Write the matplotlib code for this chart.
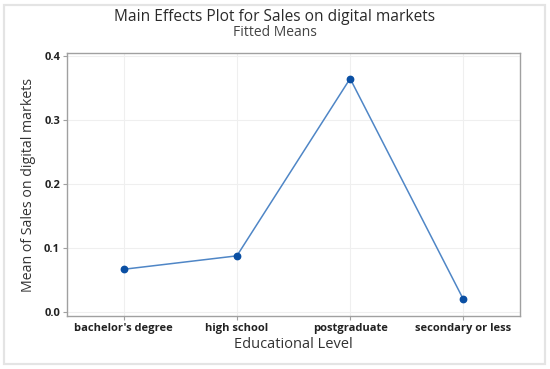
import matplotlib.pyplot as plt
from matplotlib.patches import Rectangle

levels = ["bachelor's degree", 'high school', 'postgraduate', 'secondary or less']
means = [0.067, 0.088, 0.365, 0.020]
yticks = [0.0, 0.1, 0.2, 0.3, 0.4]

plt.rcParams['font.family'] = ['Open Sans', 'DejaVu Sans']

fig = plt.figure(figsize=(5.5, 3.69), dpi=100)
ax = fig.add_axes([67 / 550, 1 - 316 / 369, (520 - 67) / 550, (316 - 53) / 369])

# outer light frame like the screenshot
fig.patches.append(Rectangle((4 / 550, 5 / 369), 541 / 550, 359 / 369,
                             transform=fig.transFigure, fill=False,
                             edgecolor='#e4e4e4', linewidth=1.6))

x = list(range(len(levels)))
ax.plot(x, means, '-', color='#4f86c6', linewidth=1.1, zorder=3)
ax.plot(x, means, 'o', color='#0a4fa3', markersize=4.6, zorder=4)

ax.set_xlim(-0.5, 3.5)
ax.set_ylim(-0.006, 0.405)
ax.set_xticks(x)
ax.set_xticklabels(levels, fontsize=8, fontweight='bold', color='#222222')
ax.set_yticks(yticks)
ax.set_yticklabels(['%.1f' % v for v in yticks], fontsize=8, fontweight='bold', color='#222222')
ax.grid(color='#efefef', linewidth=0.8)
ax.set_axisbelow(True)
for s in ax.spines.values():
    s.set_color('#a0a0a0')
    s.set_linewidth(1.0)
ax.tick_params(length=3, color='#a0a0a0', pad=2)

ax.set_xlabel('Educational Level', fontsize=10.5, color='#333333', labelpad=2)
ax.set_ylabel('Mean of Sales on digital markets', fontsize=10.2, color='#333333', labelpad=6)

fig.text(0.5, 1 - 17 / 369, 'Main Effects Plot for Sales on digital markets',
         ha='center', va='center', fontsize=11.2, color='#2a2a2a')
fig.text(0.5, 1 - 33 / 369, 'Fitted Means', ha='center', va='center',
         fontsize=10, color='#444444')

fig.savefig('out.png', dpi=100, facecolor='white')
